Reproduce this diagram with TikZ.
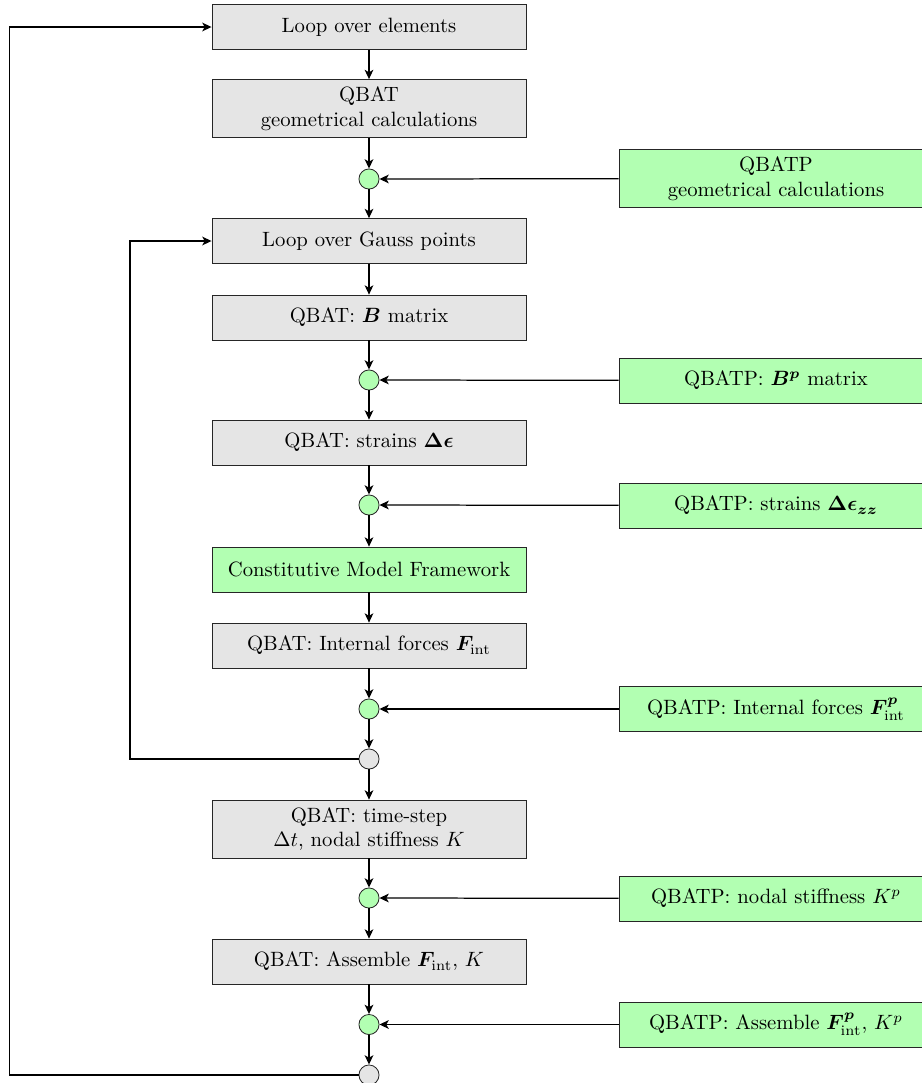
\documentclass[tikz,border=0pt]{standalone}
\usepackage{amsmath,bm}
\usetikzlibrary{arrows.meta}
\tikzset{
  box/.style={draw=black!85, thin, fill=gray!20, minimum width=151.7pt, minimum height=21.7pt, align=center, inner sep=0pt},
  box2/.style={box, minimum height=28pt},
  gbox/.style={box, fill=green!30},
  gbox2/.style={box2, fill=green!30},
  gdot/.style={circle, draw=black!85, thin, fill=green!30, minimum size=9.7pt, inner sep=0pt},
  wdot/.style={circle, draw=black!85, thin, fill=gray!20, minimum size=9.7pt, inner sep=0pt},
  conn/.style={semithick, -{Stealth[length=4.5pt,width=4.2pt,inset=1.2pt]}},
}
\begin{document}
\begin{tikzpicture}[x=0.483pt, y=-0.483pt]
\useasboundingbox (0,0) rectangle (922,1083);
\clip (0,0) rectangle (922,1083);
% main column
\node[box]  (b1) at (369,27)    {Loop over elements};
\node[box2] (b2) at (369,108.5) {QBAT\\geometrical calculations};
\node[gdot] (c1) at (369,179)   {};
\node[gbox2](g1) at (776,178.5) {QBATP\\geometrical calculations};
\node[box]  (b3) at (369,241)   {Loop over Gauss points};
\node[box]  (b4) at (369,317.5) {QBAT: $\bm{B}$ matrix};
\node[gdot] (c2) at (369,380)   {};
\node[gbox] (g2) at (776,380.5) {QBATP: $\bm{B^p}$ matrix};
\node[box]  (b5) at (369,442.5) {QBAT: strains $\bm{\Delta\epsilon}$};
\node[gdot] (c3) at (369,505)   {};
\node[gbox] (g3) at (776,505.5) {QBATP: strains $\bm{\Delta\epsilon_{zz}}$};
\node[gbox] (gm) at (369,569.5) {Constitutive Model Framework};
\node[box]  (b6) at (369,645.5) {QBAT: Internal forces $\bm{F}_{\text{int}}$};
\node[gdot] (c4) at (369,709)   {};
\node[gbox] (g4) at (776,709)   {QBATP: Internal forces $\bm{F}^{\bm{p}}_{\text{int}}$};
\node[wdot] (c5) at (369,759)   {};
\node[box2] (b7) at (369,829)   {QBAT: time-step\\$\Delta t$, nodal stiffness $K$};
\node[gdot] (c6) at (369,898)   {};
\node[gbox] (g6) at (776,898.5) {QBATP: nodal stiffness $K^p$};
\node[box]  (b8) at (369,961.5) {QBAT: Assemble $\bm{F}_{\text{int}}$, $K$};
\node[gdot] (c7) at (369,1024.5){};
\node[gbox] (g7) at (776,1024.5){QBATP: Assemble $\bm{F}^{\bm{p}}_{\text{int}}$, $K^p$};
\node[wdot] (c8) at (369,1075)  {};
% vertical connectors
\draw[conn] (b1) -- (b2);
\draw[conn] (b2) -- (c1);
\draw[conn] (c1) -- (b3);
\draw[conn] (b3) -- (b4);
\draw[conn] (b4) -- (c2);
\draw[conn] (c2) -- (b5);
\draw[conn] (b5) -- (c3);
\draw[conn] (c3) -- (gm);
\draw[conn] (gm) -- (b6);
\draw[conn] (b6) -- (c4);
\draw[conn] (c4) -- (c5);
\draw[conn] (c5) -- (b7);
\draw[conn] (b7) -- (c6);
\draw[conn] (c6) -- (b8);
\draw[conn] (b8) -- (c7);
\draw[conn] (c7) -- (c8);
% side inputs
\draw[conn] (g1) -- (c1);
\draw[conn] (g2) -- (c2);
\draw[conn] (g3) -- (c3);
\draw[conn] (g4) -- (c4);
\draw[conn] (g6) -- (c6);
\draw[conn] (g7) -- (c7);
% loops
\coordinate (l1) at (130,759);
\coordinate (l2) at (9.5,1075);
\draw[conn] (c5) -- (l1) |- (b3);
\draw[conn] (c8) -- (l2) |- (b1);
\end{tikzpicture}
\end{document}
